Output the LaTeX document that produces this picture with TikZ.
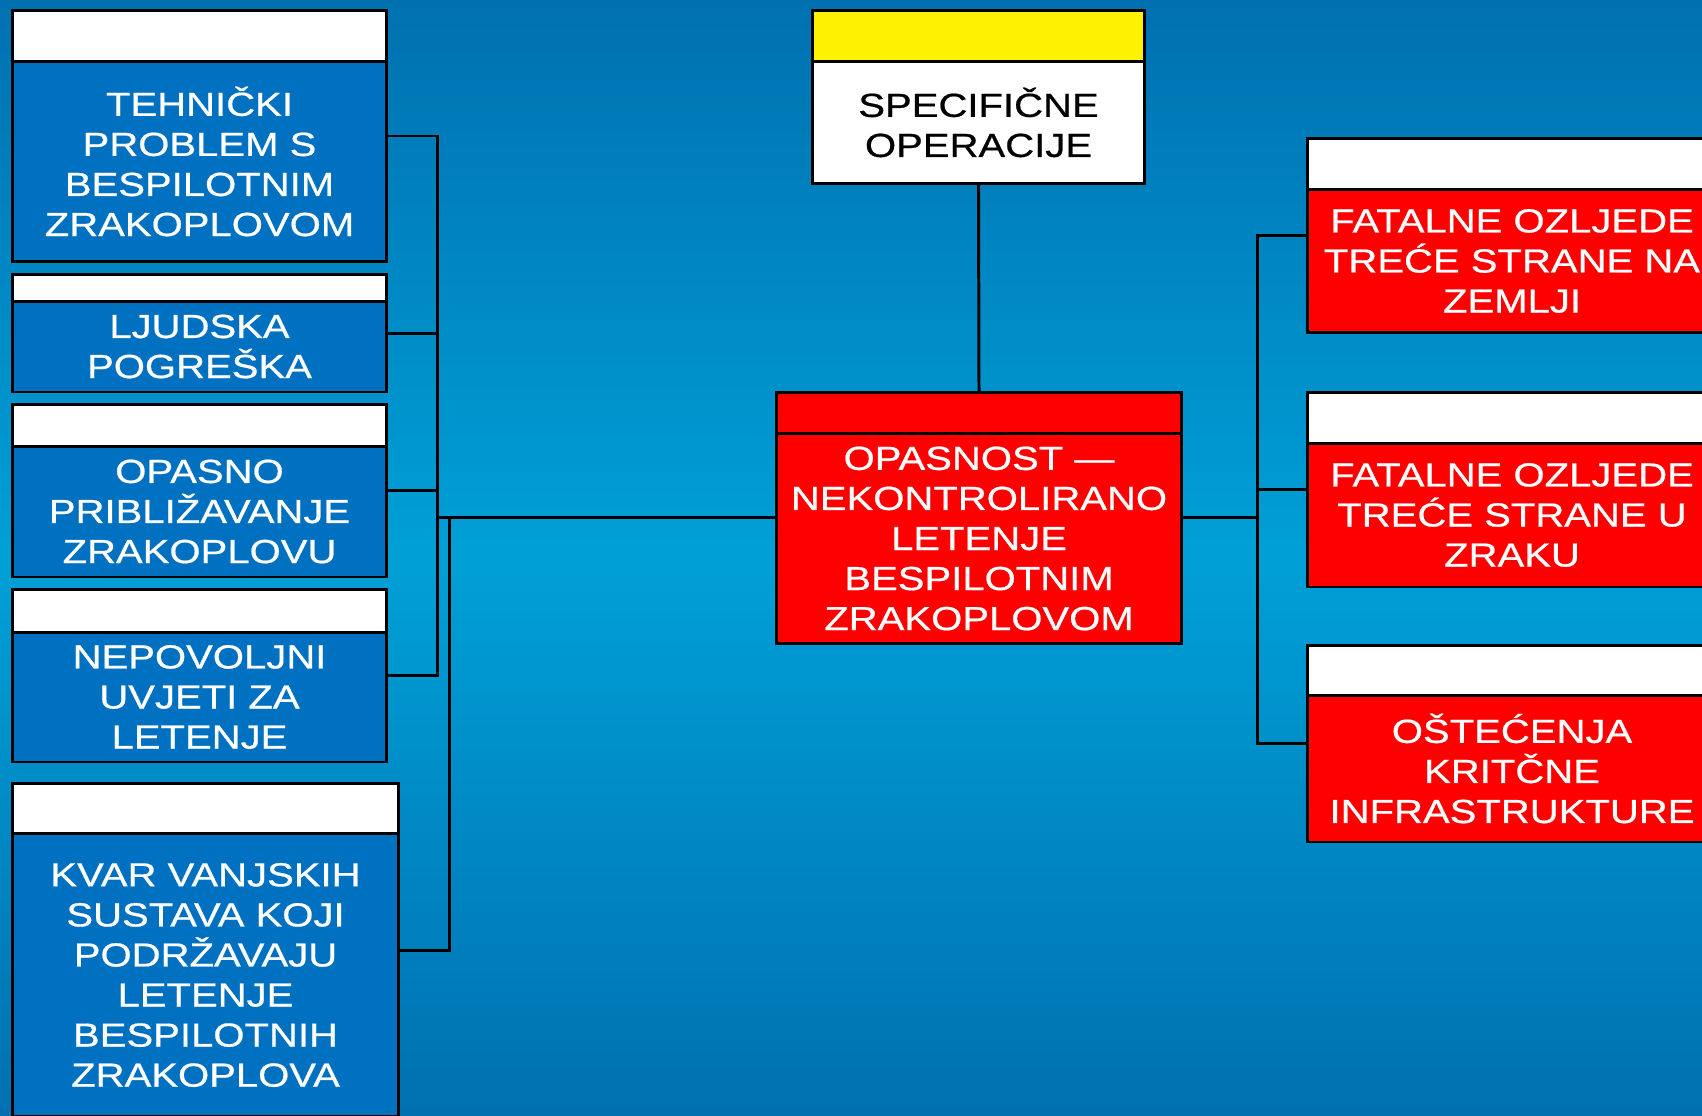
\documentclass[tikz,border=0pt]{standalone}
\usepackage{fontspec}
\setmainfont{Liberation Sans}
\usetikzlibrary{positioning,calc}
\definecolor{bgdark}{RGB}{0,112,176}
\definecolor{bglight}{RGB}{0,160,215}
\definecolor{cblue}{RGB}{0,112,192}
\newcommand{\bfnt}{\fontsize{19}{22.8}\selectfont\addfontfeature{FakeStretch=1.2,FakeBold=0.6}}
\tikzstyle{box}=[draw, line width=1.7pt, inner sep=0pt, outer sep=0pt, align=center, font=\bfnt]
\tikzstyle{c}=[box, fill=cblue, text=white]
\tikzstyle{p}=[box, fill=red, text=white]
\tikzstyle{h}=[box, fill=white]

\begin{document}
\begin{tikzpicture}[x=0.02cm, y=-0.02cm, line width=1.7pt]
		\useasboundingbox (0,0) rectangle (1702,1115);
		\clip (0,0) rectangle (1702,1115);
		\shade[top color=bgdark, bottom color=bgdark, middle color=bglight] (0,0) rectangle (1702,1115);
		% causes
		\node[c, minimum width=7.5cm, minimum height=4.02cm] (U1) at (199.5,161.5) {TEHNIČKI\\PROBLEM S\\BESPILOTNIM\\ZRAKOPLOVOM};
		\node[h, minimum width=7.5cm, minimum height=1.02cm] (U1h) [above = 0pt of U1] {};
		\node[c, minimum width=7.5cm, minimum height=1.82cm] (U2) at (199.5,346.5) {LJUDSKA\\POGREŠKA};
		\node[h, minimum width=7.5cm, minimum height=0.54cm] (U2h) [above = 0pt of U2] {};
		\node[c, minimum width=7.5cm, minimum height=2.62cm] (U3) at (199.5,511.5) {OPASNO\\PRIBLIŽAVANJE\\ZRAKOPLOVU};
		\node[h, minimum width=7.5cm, minimum height=0.84cm] (U3h) [above = 0pt of U3] {};
		\node[c, minimum width=7.5cm, minimum height=2.6cm] (U4) at (199.5,697) {NEPOVOLJNI\\UVJETI ZA\\LETENJE};
		\node[h, minimum width=7.5cm, minimum height=0.86cm] (U4h) [above = 0pt of U4] {};
		\node[c, minimum width=7.74cm, minimum height=5.68cm] (U5) at (205.5,975) {KVAR VANJSKIH\\SUSTAVA KOJI\\PODRŽAVAJU\\LETENJE\\BESPILOTNIH\\ZRAKOPLOVA};
		\node[h, minimum width=7.74cm, minimum height=1cm] (U5h) [above = 0pt of U5] {};
		% top and hazard
		\node[h, minimum width=6.66cm, minimum height=2.46cm] (S) at (978.5,122.5) {SPECIFIČNE\\OPERACIJE};
		\node[h, fill=yellow, minimum width=6.66cm, minimum height=1.02cm] (Sh) [above = 0pt of S] {};
		\node[p, minimum width=8.12cm, minimum height=4.22cm] (H) at (979,538.5) {OPASNOST —\\NEKONTROLIRANO\\LETENJE\\BESPILOTNIM\\ZRAKOPLOVOM};
		\node[h, fill=red, minimum width=8.12cm, minimum height=0.82cm] (Hh) [above = 0pt of H] {};
		% consequences
		\node[p, minimum width=8.2cm, minimum height=2.88cm] (P1) at (1512,261) {FATALNE OZLJEDE\\TREĆE STRANE NA\\ZEMLJI};
		\node[h, minimum width=8.2cm, minimum height=1.02cm] (P1h) [above = 0pt of P1] {};
		\node[p, minimum width=8.2cm, minimum height=2.88cm] (P2) at (1512,515) {FATALNE OZLJEDE\\TREĆE STRANE U\\ZRAKU};
		\node[h, minimum width=8.2cm, minimum height=1.02cm] (P2h) [above = 0pt of P2] {};
		\node[p, minimum width=8.2cm, minimum height=2.94cm] (P3) at (1512,768.5) {OŠTEĆENJA\\KRITČNE\\INFRASTRUKTURE};
		\node[h, minimum width=8.2cm, minimum height=1cm] (P3h) [above = 0pt of P3] {};
		% bus lines
		\coordinate (bl) at (437,517);
		\coordinate (bm) at (449,517);
		\coordinate (br) at (1257,517);
		\draw ($(U1h.north east)!.5!(U1.south east)$) -| (bl);
		\draw ($(U2h.north east)!.5!(U2.south east)$) -| (bl);
		\draw ($(U3h.north east)!.5!(U3.south east)$) -| (bl);
		\draw ($(U4h.north east)!.5!(U4.south east)$) -| (bl);
		\draw ($(U5h.north east)!.5!(U5.south east)$) -| (bm);
		\draw (bl) -- (bl -| H.west);
		\draw (S.south) -- (Hh.north);
		\draw (br -| H.east) -- (br);
		\draw ($(P1h.north west)!.5!(P1.south west)$) -| (br);
		\draw ($(P2h.north west)!.5!(P2.south west)$) -| (br);
		\draw ($(P3h.north west)!.5!(P3.south west)$) -| (br);
	\end{tikzpicture}
\end{document}
